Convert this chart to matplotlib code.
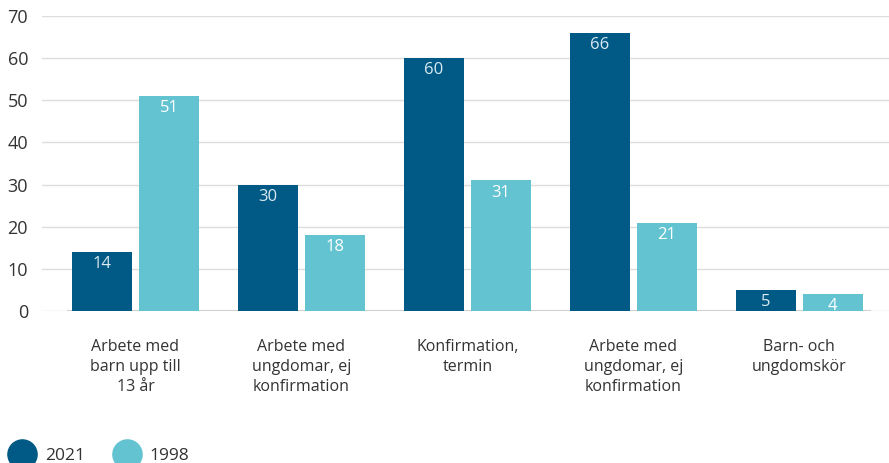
import numpy as np
import matplotlib.pyplot as plt
from matplotlib.lines import Line2D

plt.rcParams['font.family'] = ['Open Sans', 'DejaVu Sans']

categories = ["Arbete med\nbarn upp till\n13 år",
              "Arbete med\nungdomar, ej\nkonfirmation",
              "Konfirmation,\ntermin",
              "Arbete med\nungdomar, ej\nkonfirmation",
              "Barn- och\nungdomskör"]
values_2021 = [14, 30, 60, 66, 5]
values_1998 = [51, 18, 31, 21, 4]
series_names = ["2021", "1998"]

dark = '#005a85'
light = '#63c3d1'
text_col = '#333333'

fig = plt.figure(figsize=(8.89, 4.63), dpi=100)
ax = fig.add_axes([42 / 889, (463 - 311) / 463, 847 / 889, 295 / 463])

x = np.arange(len(categories))
w = 60 / 166
gap = 7 / 166
b1 = ax.bar(x - (w + gap) / 2, values_2021, w, color=dark, zorder=3)
b2 = ax.bar(x + (w + gap) / 2, values_1998, w, color=light, zorder=3)

for bars, vals, col in [(b1, values_2021, '#dbe9f1'), (b2, values_1998, 'white')]:
    for r, v in zip(bars, vals):
        ax.annotate(str(v), (r.get_x() + r.get_width() / 2, v), xytext=(0, -3),
                    textcoords='offset points', ha='center', va='top',
                    fontsize=12, color=col, zorder=4)

ax.set_xlim(-0.563, 4.54)
ax.set_ylim(0, 70)
ax.set_yticks(range(0, 71, 10))
ax.yaxis.grid(True, color='#dddddd', linewidth=1)
ax.set_axisbelow(True)
ax.axhline(0, xmin=(68 - 42) / 847, xmax=(870 - 42) / 847, color='#d0d0d0', linewidth=1.5, zorder=2)
for s in ax.spines.values():
    s.set_visible(False)
ax.tick_params(axis='both', length=0, colors=text_col)
ax.tick_params(axis='y', labelsize=13, pad=10)
ax.set_xticks(x)
ax.set_xticklabels(categories, fontsize=11.5, linespacing=1.35)
ax.tick_params(axis='x', pad=20)

handles = [Line2D([], [], marker='o', linestyle='', markersize=21, color=dark),
           Line2D([], [], marker='o', linestyle='', markersize=21, color=light)]
fig.legend(handles, series_names, loc='lower left', bbox_to_anchor=(-0.012, -0.035),
           ncol=2, frameon=False, fontsize=12.5, handletextpad=0.3, columnspacing=1.4,
           labelcolor=text_col)

fig.savefig('out.png', dpi=100)
